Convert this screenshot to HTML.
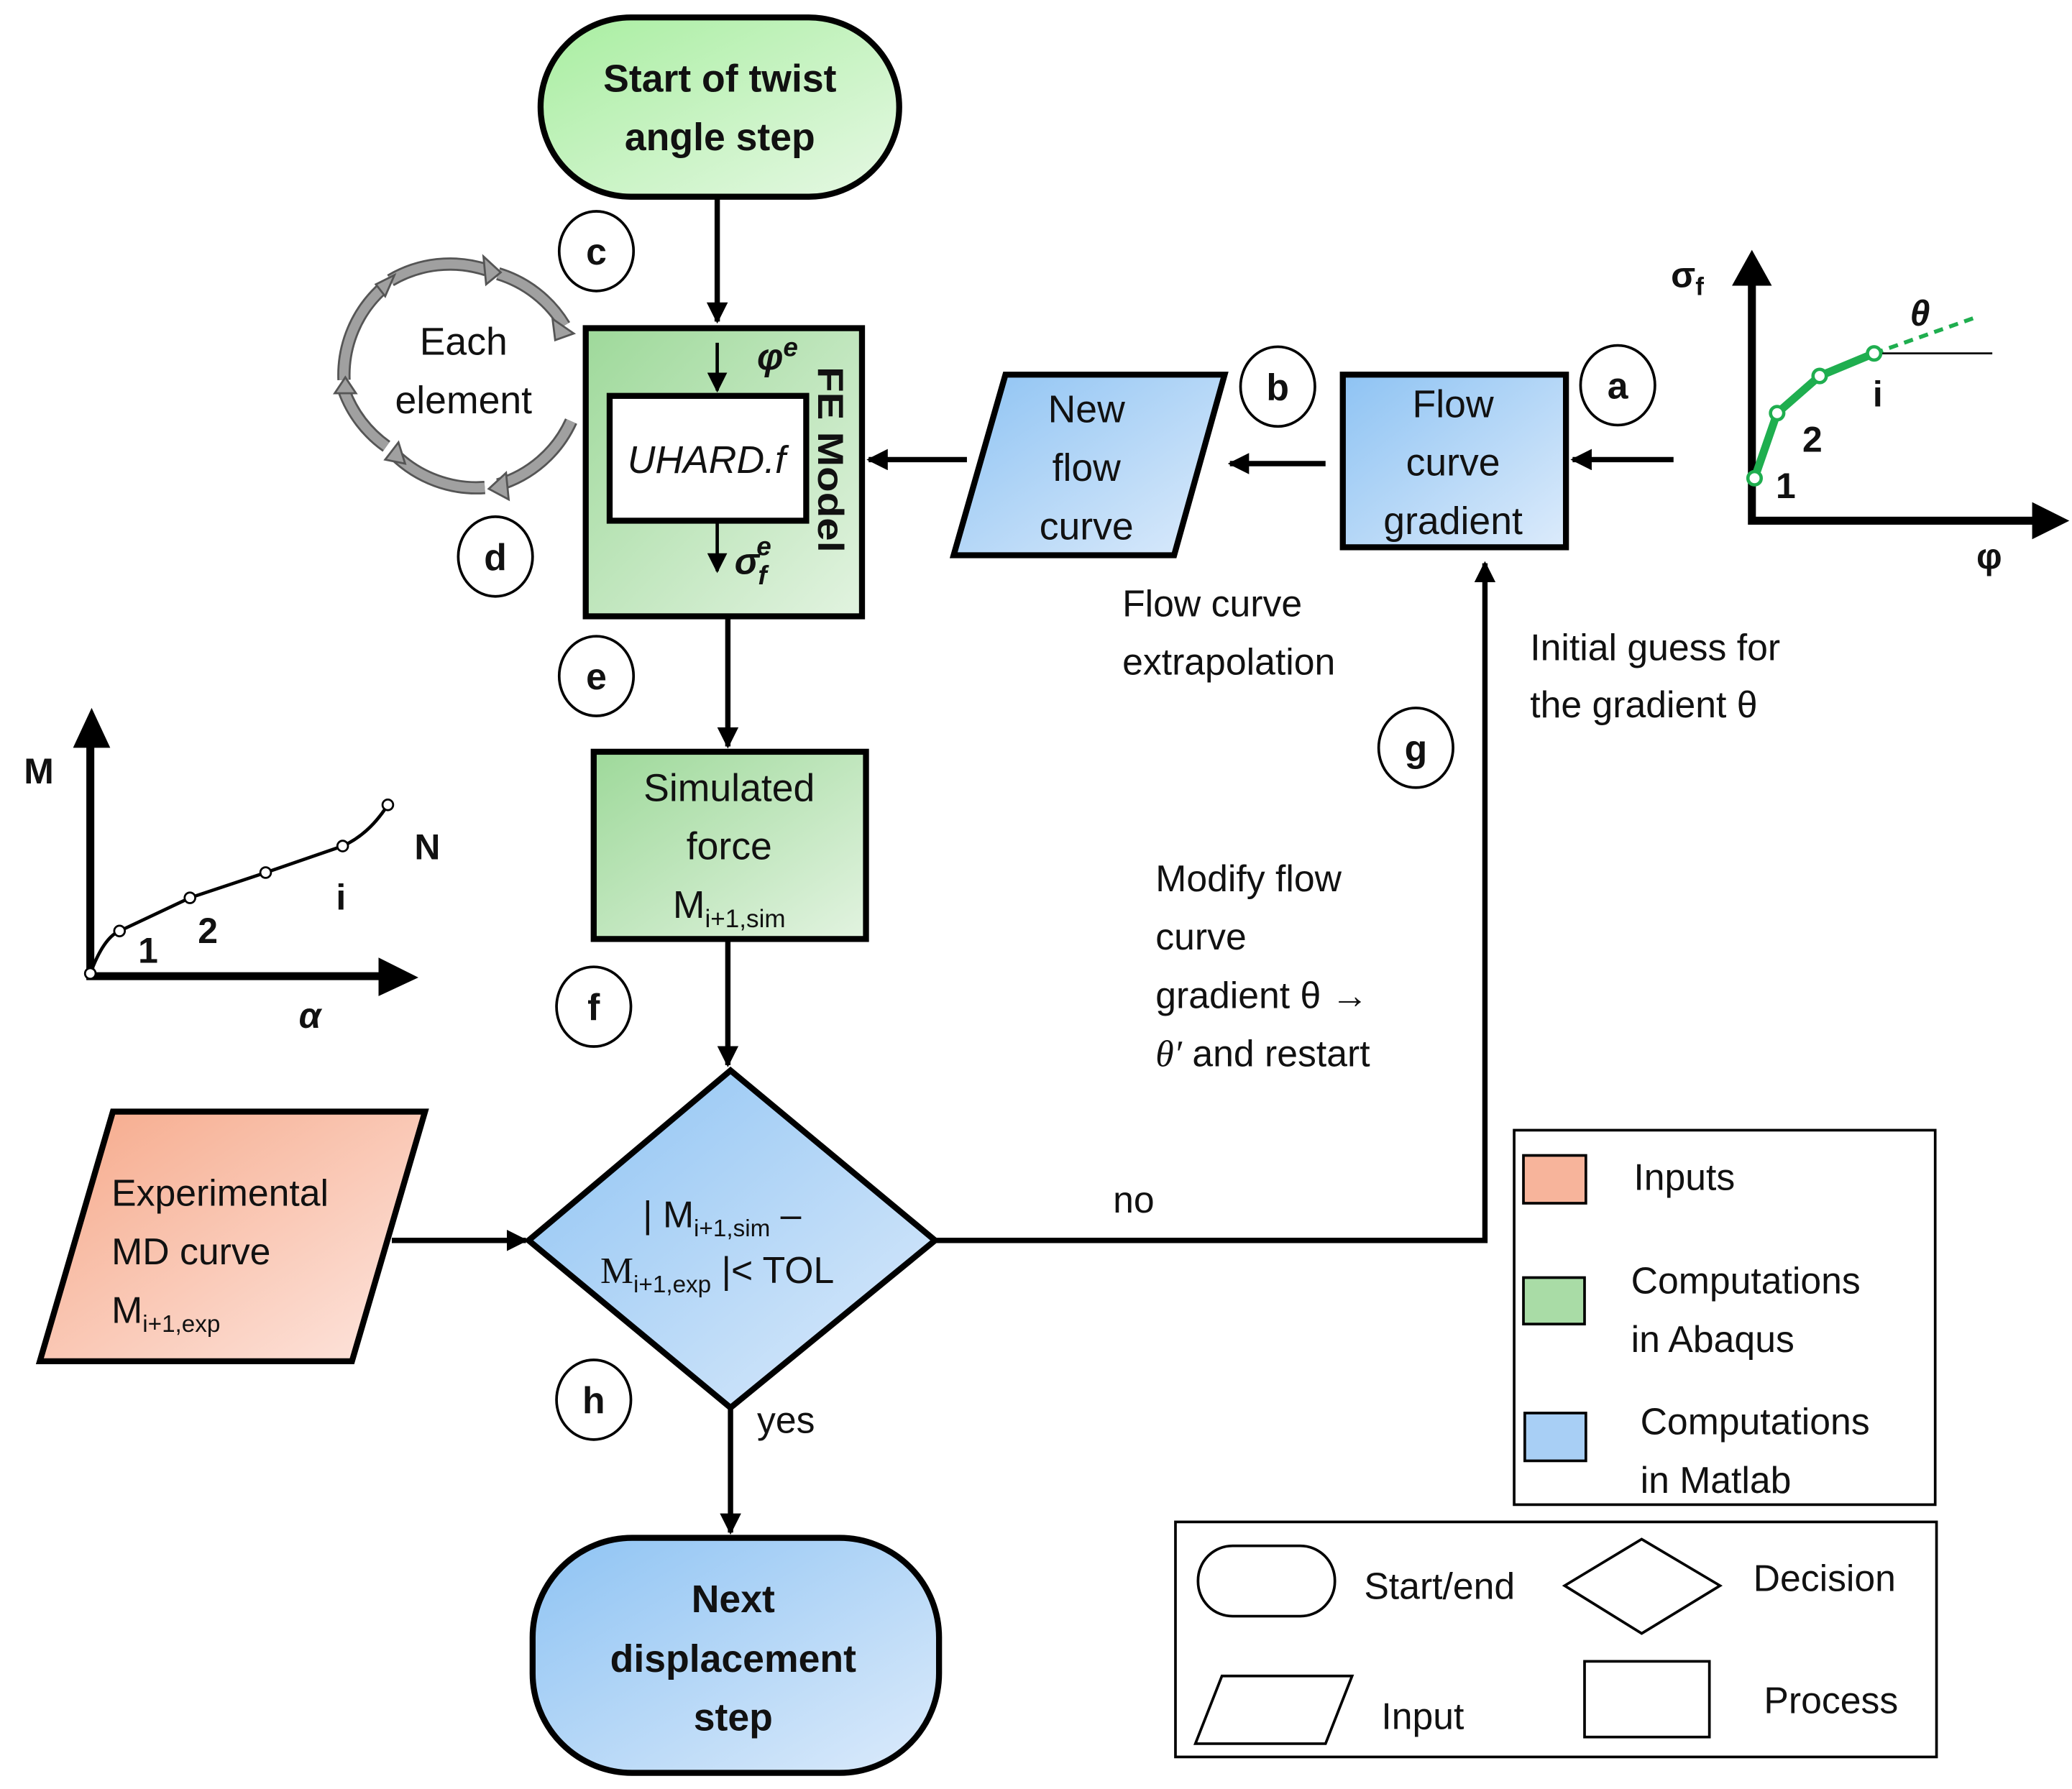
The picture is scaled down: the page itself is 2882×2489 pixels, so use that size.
<!DOCTYPE html>
<html><head><meta charset="utf-8"><style>
html,body{margin:0;padding:0;background:#fff}
svg{display:block}
text{font-family:"Liberation Sans","DejaVu Sans",sans-serif;fill:#111}
</style></head><body>
<svg width="2882" height="2489" viewBox="0 0 1560 1347" xmlns="http://www.w3.org/2000/svg">
<defs>
<linearGradient id="gg" x1="0" y1="0" x2="1" y2="1"><stop offset="0" stop-color="#9ed99a"/><stop offset="1" stop-color="#e2f3e0"/></linearGradient>
<linearGradient id="gs" x1="0" y1="0" x2="1" y2="1"><stop offset="0" stop-color="#a8eea0"/><stop offset="1" stop-color="#e6f8e4"/></linearGradient>
<linearGradient id="gb" x1="0" y1="0" x2="1" y2="1"><stop offset="0" stop-color="#8ec3f3"/><stop offset="1" stop-color="#dcebfb"/></linearGradient>
<linearGradient id="go" x1="0" y1="0" x2="1" y2="1"><stop offset="0" stop-color="#f6a98a"/><stop offset="1" stop-color="#fde6df"/></linearGradient>
<marker id="ah" viewBox="0 0 10 10" refX="9" refY="5" markerWidth="4" markerHeight="4" orient="auto-start-reverse" markerUnits="strokeWidth"><path d="M0,0L10,5L0,10z" fill="#000"/></marker>
<marker id="ahs" viewBox="0 0 10 10" refX="9" refY="5" markerWidth="6" markerHeight="6" orient="auto" markerUnits="strokeWidth"><path d="M0,0L10,5L0,10z" fill="#000"/></marker>
</defs>
<g stroke="#000" stroke-width="4.5">
<rect x="407" y="13" width="270" height="135" rx="68" fill="url(#gs)"/>
<rect x="441" y="247" width="208" height="217" fill="url(#gg)"/>
<rect x="459" y="298" width="148" height="94" fill="#fff"/>
<path d="M757,282H922L884,418H718Z" fill="url(#gb)"/>
<rect x="1011" y="282" width="168" height="130" fill="url(#gb)"/>
<rect x="447" y="566" width="205" height="141" fill="url(#gg)"/>
<path d="M550,806L704,934L550,1060L398,934Z" fill="url(#gb)"/>
<path d="M85,837H320L265,1025H30Z" fill="url(#go)"/>
<rect x="401" y="1158" width="306" height="177" rx="75" fill="url(#gb)"/>
</g>
<g fill="none" stroke="#000" stroke-width="4">
<line x1="540" y1="148" x2="540" y2="242" marker-end="url(#ah)"/>
<line x1="728" y1="346" x2="654" y2="346" marker-end="url(#ah)"/>
<line x1="998" y1="349" x2="926" y2="349" marker-end="url(#ah)"/>
<line x1="1260" y1="346" x2="1184" y2="346" marker-end="url(#ah)"/>
<line x1="548" y1="464" x2="548" y2="562" marker-end="url(#ah)"/>
<line x1="548" y1="707" x2="548" y2="802" marker-end="url(#ah)"/>
<line x1="295" y1="934" x2="396" y2="934" marker-end="url(#ah)"/>
<polyline points="704,934 1118,934 1118,424" marker-end="url(#ah)"/>
<line x1="550" y1="1060" x2="550" y2="1154" marker-end="url(#ah)"/>
</g>
<g stroke="#000" stroke-width="2.5">
<line x1="540" y1="258" x2="540" y2="294" marker-end="url(#ahs)"/>
<line x1="540" y1="392" x2="540" y2="430" marker-end="url(#ahs)"/>
</g>
<g fill="none" stroke="#555" stroke-width="10">
<path d="M294,211 A88,88 0 0 1 366,203"/><path d="M375,206 A88,88 0 0 1 425,245"/>
<path d="M430,317 A88,88 0 0 1 375,365"/><path d="M365,367 A88,88 0 0 1 297,342"/>
<path d="M291,336 A88,88 0 0 1 259,294"/><path d="M259,286 A88,88 0 0 1 288,217"/>
</g>
<g fill="none" stroke="#a0a0a0" stroke-width="7">
<path d="M294,211 A88,88 0 0 1 366,203"/><path d="M375,206 A88,88 0 0 1 425,245"/>
<path d="M430,317 A88,88 0 0 1 375,365"/><path d="M365,367 A88,88 0 0 1 297,342"/>
<path d="M291,336 A88,88 0 0 1 259,294"/><path d="M259,286 A88,88 0 0 1 288,217"/>
</g>
<g fill="#a0a0a0" stroke="#555" stroke-width="1.5">
<path d="M364,193L377,205L366,214Z"/><path d="M416,240L432,251L418,256Z"/>
<path d="M381,356L368,368L383,376Z"/><path d="M300,333L290,346L305,349Z"/>
<path d="M252,296L260,284L268,296Z"/><path d="M283,214L297,207L290,223Z"/>
</g>
<text x="349" y="267" font-size="29" text-anchor="middle">Each</text>
<text x="349" y="311" font-size="29" text-anchor="middle">element</text>
<g fill="#fff" stroke="#000" stroke-width="2">
<ellipse cx="449" cy="189" rx="28" ry="30"/><ellipse cx="373" cy="419" rx="28" ry="30"/>
<ellipse cx="962" cy="291" rx="28" ry="30"/><ellipse cx="1218" cy="290" rx="28" ry="30"/>
<ellipse cx="449" cy="509" rx="28" ry="30"/><ellipse cx="1066" cy="563" rx="28" ry="30"/>
<ellipse cx="447" cy="758" rx="28" ry="30"/><ellipse cx="447" cy="1054" rx="28" ry="30"/>
</g>
<g font-size="28" font-weight="bold" text-anchor="middle">
<text x="449" y="199">c</text><text x="373" y="429">d</text><text x="962" y="301">b</text><text x="1218" y="300">a</text>
<text x="449" y="519">e</text><text x="1066" y="573">g</text><text x="447" y="768">f</text><text x="447" y="1064">h</text>
</g>
<polyline points="1319,200 1319,392 1545,392" fill="none" stroke="#000" stroke-width="6"/>
<path d="M1304,215L1319,188L1334,215Z M1530,378L1558,392L1530,406Z"/>
<line x1="1411" y1="266" x2="1500" y2="266" stroke="#000" stroke-width="1.5"/>
<line x1="1411" y1="266" x2="1490" y2="238" stroke="#1fae4f" stroke-width="3" stroke-dasharray="7,5"/>
<polyline points="1321,360 1338,311 1370,283 1411,266" fill="none" stroke="#1fae4f" stroke-width="6"/>
<g fill="#fff" stroke="#1fae4f" stroke-width="2.5"><circle cx="1321" cy="360" r="5"/><circle cx="1338" cy="311" r="5"/><circle cx="1370" cy="283" r="5"/><circle cx="1411" cy="266" r="5"/></g>
<g font-weight="bold" font-size="27">
<text x="1258" y="216" font-family="Liberation Serif">σ<tspan font-size="19" dy="6">f</tspan></text>
<text x="1488" y="428" font-family="Liberation Serif">φ</text>
<text x="1438" y="245" font-family="Liberation Serif" font-style="italic">θ</text>
<text x="1337" y="375">1</text><text x="1357" y="340">2</text><text x="1410" y="306">i</text>
</g>
<polyline points="68,560 68,735 290,735" fill="none" stroke="#000" stroke-width="6"/>
<path d="M55,563L69,533L83,563Z M285,721L315,736L285,750Z"/>
<path d="M68,733 Q78,706 90,701 L143,676 L200,657 L258,637 Q278,628 292,606" fill="none" stroke="#000" stroke-width="2.5"/>
<g fill="#fff" stroke="#000" stroke-width="1.5"><circle cx="68" cy="733" r="4"/><circle cx="90" cy="701" r="4"/><circle cx="143" cy="676" r="4"/><circle cx="200" cy="657" r="4"/><circle cx="258" cy="637" r="4"/><circle cx="292" cy="606" r="4"/></g>
<g font-weight="bold" font-size="27">
<text x="18" y="590">M</text><text x="312" y="647">N</text>
<text x="225" y="774" font-family="Liberation Serif" font-style="italic">α</text>
<text x="104" y="725">1</text><text x="149" y="710">2</text><text x="253" y="685">i</text>
</g>
<g font-size="29" text-anchor="middle">
<text x="542" y="69" font-weight="bold">Start of twist</text>
<text x="542" y="113" font-weight="bold">angle step</text>
<text x="532" y="356" font-style="italic">UHARD.f</text>
<text x="818" y="318">New</text><text x="818" y="362">flow</text><text x="818" y="406">curve</text>
<text x="1094" y="314">Flow</text><text x="1094" y="358">curve</text><text x="1094" y="402">gradient</text>
<text x="549" y="603">Simulated</text><text x="549" y="647">force</text>
<text x="549" y="691">M<tspan font-size="19" dy="7">i+1,sim</tspan></text>
<text x="552" y="1214" font-weight="bold">Next</text><text x="552" y="1259" font-weight="bold">displacement</text><text x="552" y="1303" font-weight="bold">step</text>
</g>
<text x="616" y="276" font-size="27" font-weight="bold" textLength="140" lengthAdjust="spacingAndGlyphs" transform="rotate(90 616 276)">FE Model</text>
<text x="570" y="278" font-size="28" font-family="Liberation Serif" font-style="italic" font-weight="bold">φ<tspan font-size="20" dy="-10">e</tspan></text>
<text x="553" y="432" font-size="28" font-family="Liberation Serif" font-style="italic" font-weight="bold">σ<tspan font-size="20" dy="-14" dx="-2">e</tspan><tspan font-size="20" dy="22" dx="-10">f</tspan></text>
<g font-size="28">
<text x="484" y="924">| M<tspan font-size="18" dy="7">i+1,sim</tspan><tspan dy="-7"> –</tspan></text>
<text x="452" y="966"><tspan font-family="Liberation Serif">M</tspan><tspan font-size="18" dy="7">i+1,exp</tspan><tspan dy="-7"> |&lt; TOL</tspan></text>
<text x="84" y="908">Experimental</text><text x="84" y="952">MD curve</text>
<text x="84" y="996">M<tspan font-size="18" dy="7">i+1,exp</tspan></text>
<text x="845" y="464">Flow curve</text><text x="845" y="508">extrapolation</text>
<text x="1152" y="497">Initial guess for</text><text x="1152" y="540">the gradient θ</text>
<text x="870" y="671">Modify flow</text><text x="870" y="715">curve</text><text x="870" y="759">gradient θ →</text><text x="870" y="803"><tspan font-family="Liberation Serif" font-style="italic">θ′</tspan> and restart</text>
<text x="838" y="913">no</text><text x="570" y="1079">yes</text>
</g>
<g stroke="#000" stroke-width="2" fill="none">
<rect x="1140" y="851" width="317" height="282"/>
<rect x="885" y="1146" width="573" height="177"/>
<rect x="1147" y="870" width="47" height="36" fill="#f7b49b"/>
<rect x="1147" y="962" width="46" height="35" fill="#a9dca6"/>
<rect x="1148" y="1064" width="46" height="36" fill="#a8cff5"/>
<rect x="902" y="1164" width="103" height="53" rx="26"/>
<path d="M1236,1159L1295,1194L1236,1230L1178,1194Z"/>
<path d="M920,1262H1018L998,1313H900Z"/>
<rect x="1193" y="1251" width="94" height="57"/>
</g>
<g font-size="28">
<text x="1230" y="896">Inputs</text>
<text x="1228" y="974">Computations</text><text x="1228" y="1018">in Abaqus</text>
<text x="1235" y="1080">Computations</text><text x="1235" y="1124">in Matlab</text>
<text x="1027" y="1204">Start/end</text><text x="1320" y="1198">Decision</text>
<text x="1040" y="1302">Input</text><text x="1328" y="1290">Process</text>
</g>
</svg>
</body></html>
